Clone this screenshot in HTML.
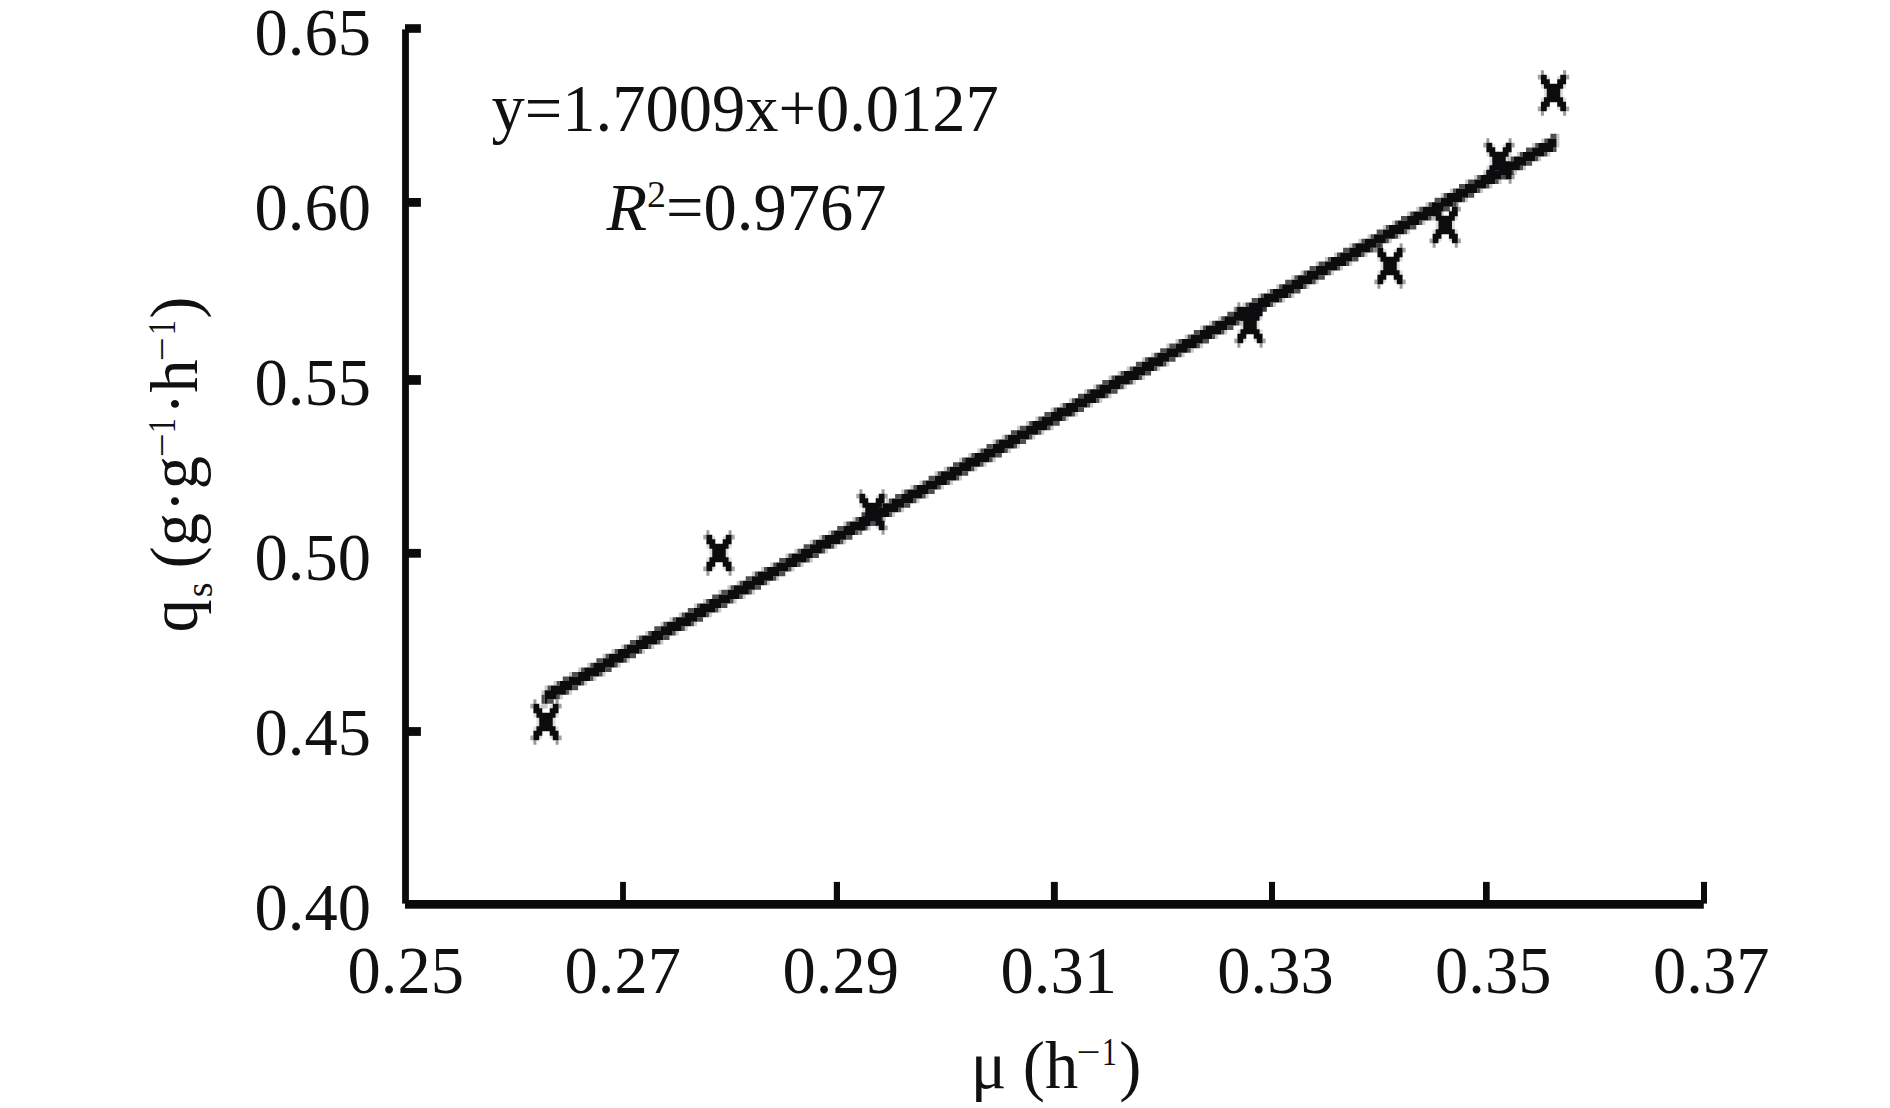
<!DOCTYPE html>
<html lang="en">
<head>
<meta charset="utf-8">
<title>qs vs mu</title>
<style>
  html, body { margin: 0; padding: 0; background: #ffffff; }
  body { width: 1890px; height: 1108px; overflow: hidden; }
  svg { display: block; }
  text { font-family: "Liberation Serif", "Times New Roman", Times, serif; fill: #111111; }
  .t  { font-size: 66.5px; }
  .s  { font-size: 38px; }
  .i  { font-style: italic; }
  .ax { fill: #0a0b0b; }
  .mk { fill: #0c0c0e; }
</style>
</head>
<body>
<svg width="1890" height="1108" viewBox="0 0 1890 1108">
  <defs>

    <g id="m"><path d="M-6.75,-4.6H6.75V4.6H-6.75ZM-9.6,-9.25H9.6V-4.3H-9.6ZM-9.6,4.3H9.6V9.25H-9.6ZM3.7,8.65H12.6V13.8H3.7ZM3.7,-13.8H12.6V-8.65H3.7ZM-12.6,8.65H-3.7V13.8H-12.6ZM-12.6,-13.8H-3.7V-8.65H-12.6ZM6.75,13.5H12.6V18.35H6.75ZM6.75,-18.35H12.6V-13.5H6.75ZM-12.6,13.5H-6.75V18.35H-12.6ZM-12.6,-18.35H-6.75V-13.5H-12.6Z"/>
      <path d="M9.6,18.35H12.6V22.75H9.6ZM9.6,-22.75H12.6V-18.35H9.6ZM-12.6,18.35H-9.6V22.75H-12.6ZM-12.6,-22.75H-9.6V-18.35H-12.6Z" fill-opacity="0.42"/>
      <path d="M12.6,13.5H15.7V18.35H12.6ZM12.6,-18.35H15.7V-13.5H12.6ZM-15.7,13.5H-12.6V18.35H-15.7ZM-15.7,-18.35H-12.6V-13.5H-15.7Z" fill-opacity="0.38"/>
      <path d="M9.6,4.6H12.6V8.95H9.6ZM9.6,-8.95H12.6V-4.6H9.6ZM-12.6,4.6H-9.6V8.95H-12.6ZM-12.6,-8.95H-9.6V-4.6H-12.6ZM6.75,0H9.6V4.6H6.75ZM6.75,-4.6H9.6V-0H6.75ZM-9.6,0H-6.75V4.6H-9.6ZM-9.6,-4.6H-6.75V-0H-9.6ZM3.7,13.5H6.75V16.85H3.7ZM3.7,-16.85H6.75V-13.5H3.7ZM-6.75,13.5H-3.7V16.85H-6.75ZM-6.75,-16.85H-3.7V-13.5H-6.75Z" fill-opacity="0.14"/></g>

  </defs>
  <rect x="0" y="0" width="1890" height="1108" fill="#ffffff"/>

  <!-- axes -->
  <g class="ax">
    <rect x="402.1" y="29.4" width="6.8" height="874.2"/>
    <rect x="405" y="900" width="1298.8" height="8.7"/>
    <rect x="405" y="24.2" width="15.9" height="8.6"/>
    <rect x="405" y="198" width="15.9" height="8.8"/>
    <rect x="405" y="375.1" width="15.9" height="9.7"/>
    <rect x="405" y="548.9" width="15.9" height="8.8"/>
    <rect x="405" y="727.1" width="15.9" height="8.8"/>
    <rect x="620.1" y="881.9" width="5.8" height="20"/>
    <rect x="833.8" y="881.9" width="6.2" height="20"/>
    <rect x="1050.9" y="881.9" width="6.9" height="20"/>
    <rect x="1269" y="881.9" width="6" height="20"/>
    <rect x="1483" y="881.9" width="6.7" height="20"/>
    <rect x="1701" y="881.9" width="6" height="21.7"/>
  </g>

  <!-- trend line -->

  <g class="mk"><path d="M1547.3,138.4H1556.5V143.0H1547.3ZM1538.2,143.0H1556.5V147.5H1538.2ZM1532.1,147.5H1553.4V152.1H1532.1ZM1523.0,152.1H1544.3V156.6H1523.0ZM1513.8,156.6H1535.2V161.2H1513.8ZM1504.7,161.2H1526.0V165.8H1504.7ZM1498.6,165.8H1519.9V170.3H1498.6ZM1489.4,170.3H1510.8V174.9H1489.4ZM1480.3,174.9H1501.6V179.4H1480.3ZM1474.2,179.4H1495.5V184.0H1474.2ZM1465.0,184.0H1486.4V188.6H1465.0ZM1455.9,188.6H1477.2V193.1H1455.9ZM1446.8,193.1H1468.1V197.7H1446.8ZM1440.7,197.7H1462.0V202.2H1440.7ZM1431.5,202.2H1452.9V206.8H1431.5ZM1422.4,206.8H1443.7V211.4H1422.4ZM1413.2,211.4H1437.6V215.9H1413.2ZM1407.1,215.9H1428.5V220.5H1407.1ZM1398.0,220.5H1419.3V225.0H1398.0ZM1388.8,225.0H1410.2V229.6H1388.8ZM1382.8,229.6H1404.1V234.2H1382.8ZM1373.6,234.2H1394.9V238.7H1373.6ZM1364.5,238.7H1385.8V243.3H1364.5ZM1355.3,243.3H1376.7V247.8H1355.3ZM1349.2,247.8H1370.6V252.4H1349.2ZM1340.1,252.4H1361.4V257.0H1340.1ZM1330.9,257.0H1352.3V261.5H1330.9ZM1324.8,261.5H1346.2V266.1H1324.8ZM1315.7,266.1H1337.0V270.6H1315.7ZM1306.6,270.6H1327.9V275.2H1306.6ZM1297.4,275.2H1318.7V279.8H1297.4ZM1291.3,279.8H1312.6V284.3H1291.3ZM1282.2,284.3H1303.5V288.9H1282.2ZM1273.0,288.9H1294.4V293.4H1273.0ZM1263.9,293.4H1288.3V298.0H1263.9ZM1257.8,298.0H1279.1V302.6H1257.8ZM1248.6,302.6H1270.0V307.1H1248.6ZM1239.5,307.1H1260.8V311.7H1239.5ZM1233.4,311.7H1254.7V316.2H1233.4ZM1224.3,316.2H1245.6V320.8H1224.3ZM1215.1,320.8H1236.4V325.4H1215.1ZM1206.0,325.4H1227.3V329.9H1206.0ZM1199.9,329.9H1221.2V334.5H1199.9ZM1190.7,334.5H1212.1V339.0H1190.7ZM1181.6,339.0H1202.9V343.6H1181.6ZM1175.5,343.6H1196.8V348.2H1175.5ZM1166.3,348.2H1187.7V352.7H1166.3ZM1157.2,352.7H1178.5V357.3H1157.2ZM1148.1,357.3H1169.4V361.8H1148.1ZM1142.0,361.8H1163.3V366.4H1142.0ZM1132.8,366.4H1154.2V371.0H1132.8ZM1123.7,371.0H1145.0V375.5H1123.7ZM1114.5,375.5H1138.9V380.1H1114.5ZM1108.4,380.1H1129.8V384.6H1108.4ZM1099.3,384.6H1120.6V389.2H1099.3ZM1090.1,389.2H1111.5V393.8H1090.1ZM1084.0,393.8H1105.4V398.3H1084.0ZM1074.9,398.3H1096.2V402.9H1074.9ZM1065.8,402.9H1087.1V407.4H1065.8ZM1056.6,407.4H1078.0V412.0H1056.6ZM1050.5,412.0H1071.9V416.6H1050.5ZM1041.4,416.6H1062.7V421.1H1041.4ZM1032.2,421.1H1053.6V425.7H1032.2ZM1026.1,425.7H1047.5V430.2H1026.1ZM1017.0,430.2H1038.3V434.8H1017.0ZM1007.8,434.8H1029.2V439.4H1007.8ZM998.7,439.4H1020.0V443.9H998.7ZM992.6,443.9H1013.9V448.5H992.6ZM983.5,448.5H1004.8V453.0H983.5ZM974.3,453.0H995.7V457.6H974.3ZM965.2,457.6H989.6V462.2H965.2ZM959.1,462.2H980.4V466.7H959.1ZM949.9,466.7H971.3V471.3H949.9ZM940.8,471.3H962.1V475.8H940.8ZM934.7,475.8H956.0V480.4H934.7ZM925.6,480.4H946.9V485.0H925.6ZM916.4,485.0H937.7V489.5H916.4ZM907.3,489.5H928.6V494.1H907.3ZM901.2,494.1H922.5V498.6H901.2ZM892.0,498.6H913.4V503.2H892.0ZM882.9,503.2H904.2V507.8H882.9ZM876.8,507.8H898.1V512.3H876.8ZM867.6,512.3H889.0V516.9H867.6ZM858.5,516.9H879.8V521.4H858.5ZM849.4,521.4H870.7V526.0H849.4ZM843.3,526.0H864.6V530.6H843.3ZM834.1,530.6H855.4V535.1H834.1ZM825.0,535.1H846.3V539.7H825.0ZM815.8,539.7H840.2V544.2H815.8ZM809.7,544.2H831.1V548.8H809.7ZM800.6,548.8H821.9V553.4H800.6ZM791.4,553.4H812.8V557.9H791.4ZM785.3,557.9H806.7V562.5H785.3ZM776.2,562.5H797.5V567.0H776.2ZM767.1,567.0H788.4V571.6H767.1ZM757.9,571.6H779.2V576.2H757.9ZM751.8,576.2H773.2V580.7H751.8ZM742.7,580.7H764.0V585.3H742.7ZM733.5,585.3H754.9V589.8H733.5ZM727.4,589.8H748.8V594.4H727.4ZM718.3,594.4H739.6V599.0H718.3ZM709.1,599.0H730.5V603.5H709.1ZM700.0,603.5H721.3V608.1H700.0ZM693.9,608.1H715.2V612.6H693.9ZM684.8,612.6H706.1V617.2H684.8ZM675.6,617.2H697.0V621.8H675.6ZM666.5,621.8H690.9V626.3H666.5ZM660.4,626.3H681.7V630.9H660.4ZM651.2,630.9H672.6V635.4H651.2ZM642.1,635.4H663.4V640.0H642.1ZM636.0,640.0H657.3V644.6H636.0ZM626.8,644.6H648.2V649.1H626.8ZM617.7,649.1H639.0V653.7H617.7ZM608.6,653.7H629.9V658.2H608.6ZM602.5,658.2H623.8V662.8H602.5ZM593.3,662.8H614.7V667.4H593.3ZM584.2,667.4H605.5V671.9H584.2ZM578.1,671.9H599.4V676.5H578.1ZM568.9,676.5H590.3V681.0H568.9ZM559.8,681.0H581.1V685.6H559.8ZM550.6,685.6H572.0V690.2H550.6ZM544.6,690.2H565.9V694.7H544.6ZM544.6,694.7H556.7V699.3H544.6ZM544.6,699.3H547.6V703.8H544.6Z"/>
  <path fill-opacity="0.72" d="M1550.4,133.8H1556.5V138.4H1550.4ZM1544.3,138.4H1547.3V143.0H1544.3ZM1535.2,143.0H1538.2V147.5H1535.2ZM1526.0,147.5H1532.1V152.1H1526.0ZM1553.4,147.5H1556.5V152.1H1553.4ZM1519.9,152.1H1523.0V156.6H1519.9ZM1544.3,152.1H1547.3V156.6H1544.3ZM1510.8,156.6H1513.8V161.2H1510.8ZM1535.2,156.6H1538.2V161.2H1535.2ZM1501.6,161.2H1504.7V165.8H1501.6ZM1526.0,161.2H1532.1V165.8H1526.0ZM1492.5,165.8H1498.6V170.3H1492.5ZM1519.9,165.8H1523.0V170.3H1519.9ZM1486.4,170.3H1489.4V174.9H1486.4ZM1510.8,170.3H1513.8V174.9H1510.8ZM1477.2,174.9H1480.3V179.4H1477.2ZM1501.6,174.9H1507.7V179.4H1501.6ZM1468.1,179.4H1474.2V184.0H1468.1ZM1495.5,179.4H1498.6V184.0H1495.5ZM1459.0,184.0H1465.0V188.6H1459.0ZM1486.4,184.0H1489.4V188.6H1486.4ZM1452.9,188.6H1455.9V193.1H1452.9ZM1477.2,188.6H1480.3V193.1H1477.2ZM1443.7,193.1H1446.8V197.7H1443.7ZM1468.1,193.1H1474.2V197.7H1468.1ZM1434.6,197.7H1440.7V202.2H1434.6ZM1462.0,197.7H1465.0V202.2H1462.0ZM1428.5,202.2H1431.5V206.8H1428.5ZM1452.9,202.2H1455.9V206.8H1452.9ZM1419.3,206.8H1422.4V211.4H1419.3ZM1443.7,206.8H1449.8V211.4H1443.7ZM1410.2,211.4H1413.2V215.9H1410.2ZM1437.6,211.4H1440.7V215.9H1437.6ZM1401.0,215.9H1407.1V220.5H1401.0ZM1428.5,215.9H1431.5V220.5H1428.5ZM1394.9,220.5H1398.0V225.0H1394.9ZM1419.3,220.5H1422.4V225.0H1419.3ZM1385.8,225.0H1388.8V229.6H1385.8ZM1410.2,225.0H1416.3V229.6H1410.2ZM1376.7,229.6H1382.8V234.2H1376.7ZM1404.1,229.6H1407.1V234.2H1404.1ZM1370.6,234.2H1373.6V238.7H1370.6ZM1394.9,234.2H1398.0V238.7H1394.9ZM1361.4,238.7H1364.5V243.3H1361.4ZM1385.8,238.7H1388.8V243.3H1385.8ZM1352.3,243.3H1355.3V247.8H1352.3ZM1376.7,243.3H1382.8V247.8H1376.7ZM1343.1,247.8H1349.2V252.4H1343.1ZM1370.6,247.8H1373.6V252.4H1370.6ZM1337.0,252.4H1340.1V257.0H1337.0ZM1361.4,252.4H1364.5V257.0H1361.4ZM1327.9,257.0H1330.9V261.5H1327.9ZM1352.3,257.0H1358.4V261.5H1352.3ZM1318.7,261.5H1324.8V266.1H1318.7ZM1346.2,261.5H1349.2V266.1H1346.2ZM1309.6,266.1H1315.7V270.6H1309.6ZM1337.0,266.1H1340.1V270.6H1337.0ZM1303.5,270.6H1306.6V275.2H1303.5ZM1327.9,270.6H1330.9V275.2H1327.9ZM1294.4,275.2H1297.4V279.8H1294.4ZM1318.7,275.2H1324.8V279.8H1318.7ZM1285.2,279.8H1291.3V284.3H1285.2ZM1312.6,279.8H1315.7V284.3H1312.6ZM1279.1,284.3H1282.2V288.9H1279.1ZM1303.5,284.3H1306.6V288.9H1303.5ZM1270.0,288.9H1273.0V293.4H1270.0ZM1294.4,288.9H1300.5V293.4H1294.4ZM1260.8,293.4H1263.9V298.0H1260.8ZM1288.3,293.4H1291.3V298.0H1288.3ZM1251.7,298.0H1257.8V302.6H1251.7ZM1279.1,298.0H1282.2V302.6H1279.1ZM1245.6,302.6H1248.6V307.1H1245.6ZM1270.0,302.6H1273.0V307.1H1270.0ZM1236.4,307.1H1239.5V311.7H1236.4ZM1260.8,307.1H1266.9V311.7H1260.8ZM1227.3,311.7H1233.4V316.2H1227.3ZM1254.7,311.7H1257.8V316.2H1254.7ZM1221.2,316.2H1224.3V320.8H1221.2ZM1245.6,316.2H1248.6V320.8H1245.6ZM1212.1,320.8H1215.1V325.4H1212.1ZM1236.4,320.8H1239.5V325.4H1236.4ZM1202.9,325.4H1206.0V329.9H1202.9ZM1227.3,325.4H1233.4V329.9H1227.3ZM1193.8,329.9H1199.9V334.5H1193.8ZM1221.2,329.9H1224.3V334.5H1221.2ZM1187.7,334.5H1190.7V339.0H1187.7ZM1212.1,334.5H1215.1V339.0H1212.1ZM1178.5,339.0H1181.6V343.6H1178.5ZM1202.9,339.0H1209.0V343.6H1202.9ZM1169.4,343.6H1175.5V348.2H1169.4ZM1196.8,343.6H1199.9V348.2H1196.8ZM1160.2,348.2H1166.3V352.7H1160.2ZM1187.7,348.2H1190.7V352.7H1187.7ZM1154.2,352.7H1157.2V357.3H1154.2ZM1178.5,352.7H1181.6V357.3H1178.5ZM1145.0,357.3H1148.1V361.8H1145.0ZM1169.4,357.3H1175.5V361.8H1169.4ZM1135.9,361.8H1142.0V366.4H1135.9ZM1163.3,361.8H1166.3V366.4H1163.3ZM1129.8,366.4H1132.8V371.0H1129.8ZM1154.2,366.4H1157.2V371.0H1154.2ZM1120.6,371.0H1123.7V375.5H1120.6ZM1145.0,371.0H1151.1V375.5H1145.0ZM1111.5,375.5H1114.5V380.1H1111.5ZM1138.9,375.5H1142.0V380.1H1138.9ZM1102.3,380.1H1108.4V384.6H1102.3ZM1129.8,380.1H1132.8V384.6H1129.8ZM1096.2,384.6H1099.3V389.2H1096.2ZM1120.6,384.6H1123.7V389.2H1120.6ZM1087.1,389.2H1090.1V393.8H1087.1ZM1111.5,389.2H1117.6V393.8H1111.5ZM1078.0,393.8H1084.0V398.3H1078.0ZM1105.4,393.8H1108.4V398.3H1105.4ZM1071.9,398.3H1074.9V402.9H1071.9ZM1096.2,398.3H1099.3V402.9H1096.2ZM1062.7,402.9H1065.8V407.4H1062.7ZM1087.1,402.9H1090.1V407.4H1087.1ZM1053.6,407.4H1056.6V412.0H1053.6ZM1078.0,407.4H1084.0V412.0H1078.0ZM1044.4,412.0H1050.5V416.6H1044.4ZM1071.9,412.0H1074.9V416.6H1071.9ZM1038.3,416.6H1041.4V421.1H1038.3ZM1062.7,416.6H1065.8V421.1H1062.7ZM1029.2,421.1H1032.2V425.7H1029.2ZM1053.6,421.1H1059.7V425.7H1053.6ZM1020.0,425.7H1026.1V430.2H1020.0ZM1047.5,425.7H1050.5V430.2H1047.5ZM1010.9,430.2H1017.0V434.8H1010.9ZM1038.3,430.2H1041.4V434.8H1038.3ZM1004.8,434.8H1007.8V439.4H1004.8ZM1029.2,434.8H1032.2V439.4H1029.2ZM995.7,439.4H998.7V443.9H995.7ZM1020.0,439.4H1026.1V443.9H1020.0ZM986.5,443.9H992.6V448.5H986.5ZM1013.9,443.9H1017.0V448.5H1013.9ZM980.4,448.5H983.5V453.0H980.4ZM1004.8,448.5H1007.8V453.0H1004.8ZM971.3,453.0H974.3V457.6H971.3ZM995.7,453.0H1001.8V457.6H995.7ZM962.1,457.6H965.2V462.2H962.1ZM989.6,457.6H992.6V462.2H989.6ZM953.0,462.2H959.1V466.7H953.0ZM980.4,462.2H983.5V466.7H980.4ZM946.9,466.7H949.9V471.3H946.9ZM971.3,466.7H974.3V471.3H971.3ZM937.7,471.3H940.8V475.8H937.7ZM962.1,471.3H968.2V475.8H962.1ZM928.6,475.8H934.7V480.4H928.6ZM956.0,475.8H959.1V480.4H956.0ZM922.5,480.4H925.6V485.0H922.5ZM946.9,480.4H949.9V485.0H946.9ZM913.4,485.0H916.4V489.5H913.4ZM937.7,485.0H940.8V489.5H937.7ZM904.2,489.5H907.3V494.1H904.2ZM928.6,489.5H934.7V494.1H928.6ZM895.1,494.1H901.2V498.6H895.1ZM922.5,494.1H925.6V498.6H922.5ZM889.0,498.6H892.0V503.2H889.0ZM913.4,498.6H916.4V503.2H913.4ZM879.8,503.2H882.9V507.8H879.8ZM904.2,503.2H910.3V507.8H904.2ZM870.7,507.8H876.8V512.3H870.7ZM898.1,507.8H901.2V512.3H898.1ZM861.5,512.3H867.6V516.9H861.5ZM889.0,512.3H892.0V516.9H889.0ZM855.4,516.9H858.5V521.4H855.4ZM879.8,516.9H882.9V521.4H879.8ZM846.3,521.4H849.4V526.0H846.3ZM870.7,521.4H876.8V526.0H870.7ZM837.2,526.0H843.3V530.6H837.2ZM864.6,526.0H867.6V530.6H864.6ZM831.1,530.6H834.1V535.1H831.1ZM855.4,530.6H858.5V535.1H855.4ZM821.9,535.1H825.0V539.7H821.9ZM846.3,535.1H852.4V539.7H846.3ZM812.8,539.7H815.8V544.2H812.8ZM840.2,539.7H843.3V544.2H840.2ZM803.6,544.2H809.7V548.8H803.6ZM831.1,544.2H834.1V548.8H831.1ZM797.5,548.8H800.6V553.4H797.5ZM821.9,548.8H825.0V553.4H821.9ZM788.4,553.4H791.4V557.9H788.4ZM812.8,553.4H818.9V557.9H812.8ZM779.2,557.9H785.3V562.5H779.2ZM806.7,557.9H809.7V562.5H806.7ZM773.2,562.5H776.2V567.0H773.2ZM797.5,562.5H800.6V567.0H797.5ZM764.0,567.0H767.1V571.6H764.0ZM788.4,567.0H791.4V571.6H788.4ZM754.9,571.6H757.9V576.2H754.9ZM779.2,571.6H785.3V576.2H779.2ZM745.7,576.2H751.8V580.7H745.7ZM773.2,576.2H776.2V580.7H773.2ZM739.6,580.7H742.7V585.3H739.6ZM764.0,580.7H767.1V585.3H764.0ZM730.5,585.3H733.5V589.8H730.5ZM754.9,585.3H761.0V589.8H754.9ZM721.3,589.8H727.4V594.4H721.3ZM748.8,589.8H751.8V594.4H748.8ZM712.2,594.4H718.3V599.0H712.2ZM739.6,594.4H742.7V599.0H739.6ZM706.1,599.0H709.1V603.5H706.1ZM730.5,599.0H733.5V603.5H730.5ZM697.0,603.5H700.0V608.1H697.0ZM721.3,603.5H727.4V608.1H721.3ZM687.8,608.1H693.9V612.6H687.8ZM715.2,608.1H718.3V612.6H715.2ZM681.7,612.6H684.8V617.2H681.7ZM706.1,612.6H709.1V617.2H706.1ZM672.6,617.2H675.6V621.8H672.6ZM697.0,617.2H703.0V621.8H697.0ZM663.4,621.8H666.5V626.3H663.4ZM690.9,621.8H693.9V626.3H690.9ZM654.3,626.3H660.4V630.9H654.3ZM681.7,626.3H684.8V630.9H681.7ZM648.2,630.9H651.2V635.4H648.2ZM672.6,630.9H675.6V635.4H672.6ZM639.0,635.4H642.1V640.0H639.0ZM663.4,635.4H669.5V640.0H663.4ZM629.9,640.0H636.0V644.6H629.9ZM657.3,640.0H660.4V644.6H657.3ZM623.8,644.6H626.8V649.1H623.8ZM648.2,644.6H651.2V649.1H648.2ZM614.7,649.1H617.7V653.7H614.7ZM639.0,649.1H642.1V653.7H639.0ZM605.5,653.7H608.6V658.2H605.5ZM629.9,653.7H636.0V658.2H629.9ZM596.4,658.2H602.5V662.8H596.4ZM623.8,658.2H626.8V662.8H623.8ZM590.3,662.8H593.3V667.4H590.3ZM614.7,662.8H617.7V667.4H614.7ZM581.1,667.4H584.2V671.9H581.1ZM605.5,667.4H611.6V671.9H605.5ZM572.0,671.9H578.1V676.5H572.0ZM599.4,671.9H602.5V676.5H599.4ZM562.8,676.5H568.9V681.0H562.8ZM590.3,676.5H593.3V681.0H590.3ZM556.7,681.0H559.8V685.6H556.7ZM581.1,681.0H584.2V685.6H581.1ZM547.6,685.6H550.6V690.2H547.6ZM572.0,685.6H578.1V690.2H572.0ZM565.9,690.2H568.9V694.7H565.9ZM541.5,694.7H544.6V699.3H541.5ZM556.7,694.7H559.8V699.3H556.7ZM541.5,699.3H544.6V703.8H541.5ZM547.6,699.3H553.7V703.8H547.6Z"/>
  <path fill-opacity="0.22" d="M1556.5,133.8H1559.5V138.4H1556.5ZM1541.2,138.4H1544.3V143.0H1541.2ZM1556.5,138.4H1559.5V143.0H1556.5ZM1532.1,143.0H1535.2V147.5H1532.1ZM1556.5,143.0H1559.5V147.5H1556.5ZM1516.9,152.1H1519.9V156.6H1516.9ZM1547.3,152.1H1550.4V156.6H1547.3ZM1507.7,156.6H1510.8V161.2H1507.7ZM1538.2,156.6H1541.2V161.2H1538.2ZM1498.6,161.2H1501.6V165.8H1498.6ZM1523.0,165.8H1526.0V170.3H1523.0ZM1483.3,170.3H1486.4V174.9H1483.3ZM1513.8,170.3H1516.9V174.9H1513.8ZM1474.2,174.9H1477.2V179.4H1474.2ZM1465.0,179.4H1468.1V184.0H1465.0ZM1498.6,179.4H1501.6V184.0H1498.6ZM1489.4,184.0H1492.5V188.6H1489.4ZM1449.8,188.6H1452.9V193.1H1449.8ZM1480.3,188.6H1483.3V193.1H1480.3ZM1440.7,193.1H1443.7V197.7H1440.7ZM1465.0,197.7H1468.1V202.2H1465.0ZM1425.4,202.2H1428.5V206.8H1425.4ZM1455.9,202.2H1459.0V206.8H1455.9ZM1416.3,206.8H1419.3V211.4H1416.3ZM1407.1,211.4H1410.2V215.9H1407.1ZM1440.7,211.4H1443.7V215.9H1440.7ZM1431.5,215.9H1434.6V220.5H1431.5ZM1391.9,220.5H1394.9V225.0H1391.9ZM1422.4,220.5H1425.4V225.0H1422.4ZM1382.8,225.0H1385.8V229.6H1382.8ZM1407.1,229.6H1410.2V234.2H1407.1ZM1367.5,234.2H1370.6V238.7H1367.5ZM1398.0,234.2H1401.0V238.7H1398.0ZM1358.4,238.7H1361.4V243.3H1358.4ZM1388.8,238.7H1391.9V243.3H1388.8ZM1349.2,243.3H1352.3V247.8H1349.2ZM1373.6,247.8H1376.7V252.4H1373.6ZM1334.0,252.4H1337.0V257.0H1334.0ZM1364.5,252.4H1367.5V257.0H1364.5ZM1324.8,257.0H1327.9V261.5H1324.8ZM1315.7,261.5H1318.7V266.1H1315.7ZM1349.2,261.5H1352.3V266.1H1349.2ZM1340.1,266.1H1343.1V270.6H1340.1ZM1300.5,270.6H1303.5V275.2H1300.5ZM1330.9,270.6H1334.0V275.2H1330.9ZM1291.3,275.2H1294.4V279.8H1291.3ZM1315.7,279.8H1318.7V284.3H1315.7ZM1276.1,284.3H1279.1V288.9H1276.1ZM1306.6,284.3H1309.6V288.9H1306.6ZM1266.9,288.9H1270.0V293.4H1266.9ZM1257.8,293.4H1260.8V298.0H1257.8ZM1291.3,293.4H1294.4V298.0H1291.3ZM1282.2,298.0H1285.2V302.6H1282.2ZM1242.5,302.6H1245.6V307.1H1242.5ZM1273.0,302.6H1276.1V307.1H1273.0ZM1233.4,307.1H1236.4V311.7H1233.4ZM1257.8,311.7H1260.8V316.2H1257.8ZM1218.2,316.2H1221.2V320.8H1218.2ZM1248.6,316.2H1251.7V320.8H1248.6ZM1209.0,320.8H1212.1V325.4H1209.0ZM1239.5,320.8H1242.5V325.4H1239.5ZM1199.9,325.4H1202.9V329.9H1199.9ZM1224.3,329.9H1227.3V334.5H1224.3ZM1184.6,334.5H1187.7V339.0H1184.6ZM1215.1,334.5H1218.2V339.0H1215.1ZM1175.5,339.0H1178.5V343.6H1175.5ZM1166.3,343.6H1169.4V348.2H1166.3ZM1199.9,343.6H1202.9V348.2H1199.9ZM1190.7,348.2H1193.8V352.7H1190.7ZM1151.1,352.7H1154.2V357.3H1151.1ZM1181.6,352.7H1184.6V357.3H1181.6ZM1142.0,357.3H1145.0V361.8H1142.0ZM1166.3,361.8H1169.4V366.4H1166.3ZM1126.7,366.4H1129.8V371.0H1126.7ZM1157.2,366.4H1160.2V371.0H1157.2ZM1117.6,371.0H1120.6V375.5H1117.6ZM1108.4,375.5H1111.5V380.1H1108.4ZM1142.0,375.5H1145.0V380.1H1142.0ZM1132.8,380.1H1135.9V384.6H1132.8ZM1093.2,384.6H1096.2V389.2H1093.2ZM1123.7,384.6H1126.7V389.2H1123.7ZM1084.0,389.2H1087.1V393.8H1084.0ZM1108.4,393.8H1111.5V398.3H1108.4ZM1068.8,398.3H1071.9V402.9H1068.8ZM1099.3,398.3H1102.3V402.9H1099.3ZM1059.7,402.9H1062.7V407.4H1059.7ZM1090.1,402.9H1093.2V407.4H1090.1ZM1050.5,407.4H1053.6V412.0H1050.5ZM1074.9,412.0H1078.0V416.6H1074.9ZM1035.3,416.6H1038.3V421.1H1035.3ZM1065.8,416.6H1068.8V421.1H1065.8ZM1026.1,421.1H1029.2V425.7H1026.1ZM1017.0,425.7H1020.0V430.2H1017.0ZM1050.5,425.7H1053.6V430.2H1050.5ZM1041.4,430.2H1044.4V434.8H1041.4ZM1001.8,434.8H1004.8V439.4H1001.8ZM1032.2,434.8H1035.3V439.4H1032.2ZM992.6,439.4H995.7V443.9H992.6ZM1017.0,443.9H1020.0V448.5H1017.0ZM977.4,448.5H980.4V453.0H977.4ZM1007.8,448.5H1010.9V453.0H1007.8ZM968.2,453.0H971.3V457.6H968.2ZM959.1,457.6H962.1V462.2H959.1ZM992.6,457.6H995.7V462.2H992.6ZM983.5,462.2H986.5V466.7H983.5ZM943.8,466.7H946.9V471.3H943.8ZM974.3,466.7H977.4V471.3H974.3ZM934.7,471.3H937.7V475.8H934.7ZM959.1,475.8H962.1V480.4H959.1ZM919.5,480.4H922.5V485.0H919.5ZM949.9,480.4H953.0V485.0H949.9ZM910.3,485.0H913.4V489.5H910.3ZM940.8,485.0H943.8V489.5H940.8ZM901.2,489.5H904.2V494.1H901.2ZM925.6,494.1H928.6V498.6H925.6ZM885.9,498.6H889.0V503.2H885.9ZM916.4,498.6H919.5V503.2H916.4ZM876.8,503.2H879.8V507.8H876.8ZM867.6,507.8H870.7V512.3H867.6ZM901.2,507.8H904.2V512.3H901.2ZM892.0,512.3H895.1V516.9H892.0ZM852.4,516.9H855.4V521.4H852.4ZM882.9,516.9H885.9V521.4H882.9ZM843.3,521.4H846.3V526.0H843.3ZM867.6,526.0H870.7V530.6H867.6ZM828.0,530.6H831.1V535.1H828.0ZM858.5,530.6H861.5V535.1H858.5ZM818.9,535.1H821.9V539.7H818.9ZM809.7,539.7H812.8V544.2H809.7ZM843.3,539.7H846.3V544.2H843.3ZM834.1,544.2H837.2V548.8H834.1ZM794.5,548.8H797.5V553.4H794.5ZM825.0,548.8H828.0V553.4H825.0ZM785.3,553.4H788.4V557.9H785.3ZM809.7,557.9H812.8V562.5H809.7ZM770.1,562.5H773.2V567.0H770.1ZM800.6,562.5H803.6V567.0H800.6ZM761.0,567.0H764.0V571.6H761.0ZM791.4,567.0H794.5V571.6H791.4ZM751.8,571.6H754.9V576.2H751.8ZM776.2,576.2H779.2V580.7H776.2ZM736.6,580.7H739.6V585.3H736.6ZM767.1,580.7H770.1V585.3H767.1ZM727.4,585.3H730.5V589.8H727.4ZM718.3,589.8H721.3V594.4H718.3ZM751.8,589.8H754.9V594.4H751.8ZM742.7,594.4H745.7V599.0H742.7ZM703.0,599.0H706.1V603.5H703.0ZM733.5,599.0H736.6V603.5H733.5ZM693.9,603.5H697.0V608.1H693.9ZM718.3,608.1H721.3V612.6H718.3ZM678.7,612.6H681.7V617.2H678.7ZM709.1,612.6H712.2V617.2H709.1ZM669.5,617.2H672.6V621.8H669.5ZM660.4,621.8H663.4V626.3H660.4ZM693.9,621.8H697.0V626.3H693.9ZM684.8,626.3H687.8V630.9H684.8ZM645.1,630.9H648.2V635.4H645.1ZM675.6,630.9H678.7V635.4H675.6ZM636.0,635.4H639.0V640.0H636.0ZM660.4,640.0H663.4V644.6H660.4ZM620.8,644.6H623.8V649.1H620.8ZM651.2,644.6H654.3V649.1H651.2ZM611.6,649.1H614.7V653.7H611.6ZM642.1,649.1H645.1V653.7H642.1ZM602.5,653.7H605.5V658.2H602.5ZM626.8,658.2H629.9V662.8H626.8ZM587.2,662.8H590.3V667.4H587.2ZM617.7,662.8H620.8V667.4H617.7ZM578.1,667.4H581.1V671.9H578.1ZM568.9,671.9H572.0V676.5H568.9ZM602.5,671.9H605.5V676.5H602.5ZM593.3,676.5H596.4V681.0H593.3ZM553.7,681.0H556.7V685.6H553.7ZM584.2,681.0H587.2V685.6H584.2ZM544.6,685.6H547.6V690.2H544.6ZM541.5,690.2H544.6V694.7H541.5ZM568.9,690.2H572.0V694.7H568.9ZM559.8,694.7H562.8V699.3H559.8ZM541.5,703.8H547.6V708.4H541.5Z"/></g>


  <!-- markers -->
  <g class="mk">
    <use href="#m" x="546" y="722"/>
    <use href="#m" x="719" y="553"/>
    <use href="#m" x="872" y="512"/>
    <use href="#m" x="1250" y="325"/>
    <use href="#m" x="1390" y="266"/>
    <use href="#m" x="1445.2" y="225"/>
    <use href="#m" x="1499" y="161"/>
    <use href="#m" x="1553.5" y="93"/>
  </g>

  <!-- y tick labels -->
  <text class="t" transform="translate(254.6,55.3) scale(1,1.02)">0.65</text>
  <text class="t" transform="translate(254.6,230.1) scale(1,1.02)">0.60</text>
  <text class="t" transform="translate(254.6,405.1) scale(1,1.02)">0.55</text>
  <text class="t" transform="translate(254.6,580.1) scale(1,1.02)">0.50</text>
  <text class="t" transform="translate(254.6,755.1) scale(1,1.02)">0.45</text>
  <text class="t" transform="translate(254.6,930.3) scale(1,1.02)">0.40</text>

  <!-- x tick labels -->
  <text class="t" transform="translate(347.6,993.1) scale(1,1.02)">0.25</text>
  <text class="t" transform="translate(564.6,993.1) scale(1,1.02)">0.27</text>
  <text class="t" transform="translate(782.6,993.1) scale(1,1.02)">0.29</text>
  <text class="t" transform="translate(1000.6,993.1) scale(1,1.02)">0.31</text>
  <text class="t" transform="translate(1217.3,993.1) scale(1,1.02)">0.33</text>
  <text class="t" transform="translate(1435.1,993.1) scale(1,1.02)">0.35</text>
  <text class="t" transform="translate(1653.1,993.1) scale(1,1.02)">0.37</text>

  <!-- equation -->
  <text class="t" transform="translate(491.6,131.2) scale(1,1.02)">y=1.7009x+0.0127</text>
  <text class="t" transform="translate(606.5,229.8) scale(1,1.02)"><tspan class="i">R</tspan><tspan class="s" dy="-22.2">2</tspan><tspan dy="22.2">=0.9767</tspan></text>

  <!-- x axis title -->
  <text class="t" transform="translate(970.8,1088) scale(1,1.02)">μ</text>
  <text class="t" transform="translate(1022.8,1088) scale(1,1.02)">(h</text>
  <text class="s" transform="translate(1076.5,1064.6) scale(1.12,1.02)">−</text>
  <text class="s" transform="translate(1102,1064.5) scale(0.78,1.066)">1</text>
  <text class="t" transform="translate(1119.3,1088) scale(1,1.02)">)</text>

  <!-- y axis title (rotated) -->
  <g transform="translate(196.6,630.8) rotate(-90)">
    <text class="t" transform="translate(-1.6,0) scale(1,1.02)">q</text>
    <text class="s" transform="translate(33.5,15) scale(1,1.02)">s</text>
    <text class="t" transform="translate(62.4,0) scale(1,1.02)">(g</text>
    <text class="t" transform="translate(118.5,0) scale(1,1.02)">·</text>
    <text class="t" transform="translate(141.6,0) scale(1,1.02)">g</text>
    <text class="s" transform="translate(173.5,-21.4) scale(1.12,1.02)">−</text>
    <text class="s" transform="translate(197.9,-21.4) scale(0.78,1.066)">1</text>
    <text class="t" transform="translate(215.9,0) scale(1,1.02)">·</text>
    <text class="t" transform="translate(238,0) scale(1,1.02)">h</text>
    <text class="s" transform="translate(269.5,-21.4) scale(1.12,1.02)">−</text>
    <text class="s" transform="translate(295.7,-21.4) scale(0.78,1.066)">1</text>
    <text class="t" transform="translate(312,0) scale(1,1.02)">)</text>
  </g>
</svg>
</body>
</html>
